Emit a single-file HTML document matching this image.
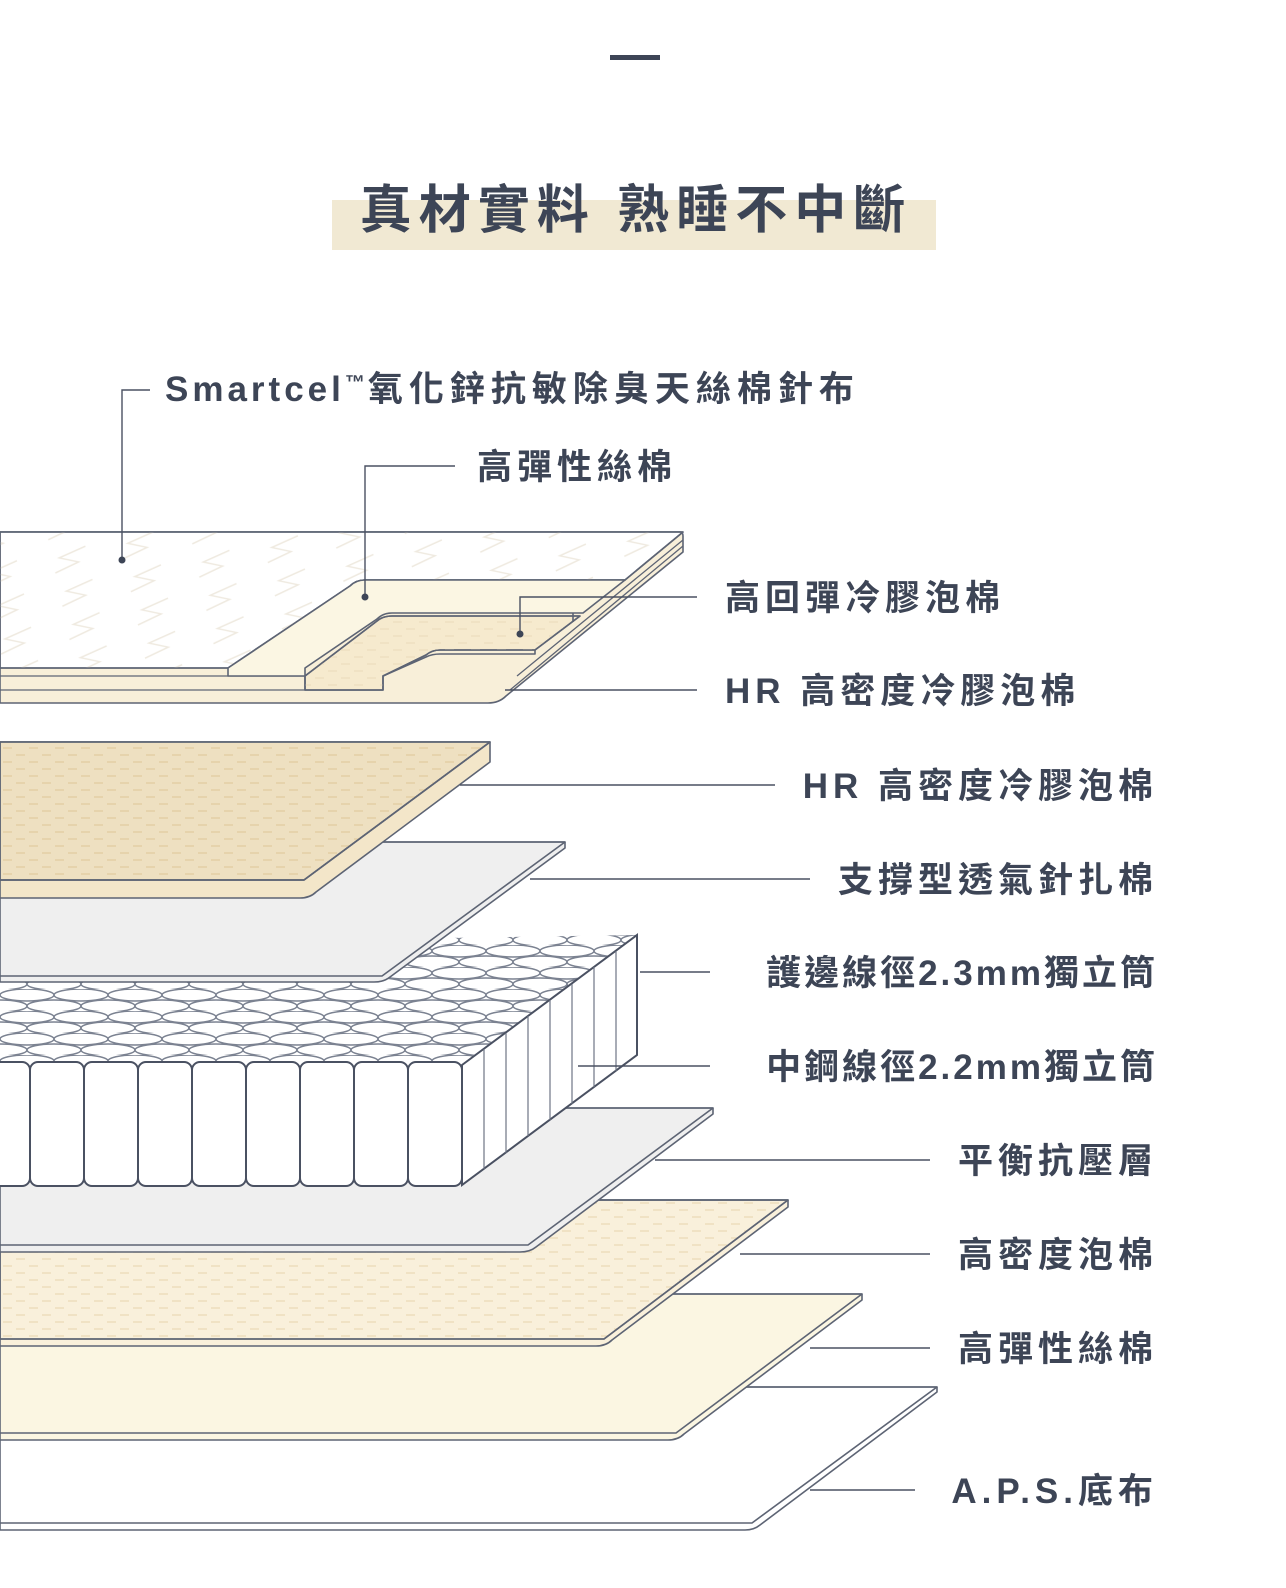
<!DOCTYPE html>
<html><head><meta charset="utf-8"><style>
html,body{margin:0;padding:0;background:#fff;overflow:hidden;width:1286px;height:1588px;}
svg{display:block;}
text{font-family:"Liberation Sans","Noto Sans CJK TC",sans-serif;font-weight:700;fill:#3d4556;}
</style></head><body>
<svg width="1286" height="1588" viewBox="0 0 1286 1588" xmlns="http://www.w3.org/2000/svg">
<defs>
<pattern id="zig" width="70" height="34" patternUnits="userSpaceOnUse" patternTransform="rotate(-12)">
<path d="M5,28 L30,22 L12,14 L40,8" fill="none" stroke="#efeae0" stroke-width="1.5"/>
</pattern>
<pattern id="dots" width="26" height="14" patternUnits="userSpaceOnUse">
<rect x="3" y="5" width="9" height="2" fill="#e6d3ac"/><rect x="16" y="12" width="9" height="2" fill="#e6d3ac"/>
</pattern>
<pattern id="dots2" width="26" height="14" patternUnits="userSpaceOnUse">
<rect x="3" y="5" width="9" height="2" fill="#f0e2c4"/><rect x="16" y="12" width="9" height="2" fill="#f0e2c4"/>
</pattern>
<pattern id="coil" width="54" height="22" patternUnits="userSpaceOnUse" patternTransform="translate(0,945)">
<ellipse cx="27" cy="6" rx="27" ry="6" fill="#fff" stroke="#7b8291" stroke-width="1.5"/>
<ellipse cx="0" cy="17" rx="27" ry="6" fill="#fff" stroke="#7b8291" stroke-width="1.5"/>
<ellipse cx="54" cy="17" rx="27" ry="6" fill="#fff" stroke="#7b8291" stroke-width="1.5"/>
</pattern>
</defs>

<rect x="610" y="55" width="50" height="5" fill="#3d4556"/>
<rect x="332" y="200" width="604" height="50" fill="#f1e9d3"/>
<text x="636" y="228" font-size="52" text-anchor="middle" letter-spacing="7">真材實料 熟睡不中斷</text>

<g stroke="#5d6474" stroke-width="1.6" stroke-linejoin="round">
<path d="M0,1387 L937,1387 L937,1392 L760,1525 Q754,1530 745,1530 L0,1530 Z" fill="#fff"/>
<path d="M0,1387 L937,1387 L752,1523 L0,1523" fill="none"/>
<path d="M0,1294 L862,1294 L862,1300 L684,1434 Q678,1440 668,1440 L0,1440 Z" fill="#fbf6e2"/>
<path d="M0,1294 L862,1294 L676,1433 L0,1433" fill="none"/>
<path d="M0,1200 L788,1200 L788,1207 L612,1340 Q606,1346 596,1346 L0,1346 Z" fill="#f9f0db"/>
<path d="M0,1200 L788,1200 L604,1339 L0,1339 Z" fill="url(#dots2)"/>
<path d="M0,1200 L788,1200 L604,1339 L0,1339" fill="none"/>
<path d="M0,1108 L713,1108 L713,1114 L536,1247 Q530,1252 520,1252 L0,1252 Z" fill="#efefef"/>
<path d="M0,1108 L713,1108 L528,1245 L0,1245" fill="none"/>
</g>

<g stroke="#4a5162" stroke-width="2">
<path d="M0,945 L637,935 L462,1065 L0,1065 Z" fill="#fff" stroke="none"/>
<path d="M0,945 L637,935 L462,1065 L0,1065 Z" fill="url(#coil)" stroke="none"/>
<path d="M462,1065 L637,935 L637,1055 L462,1185 Z" fill="#fff"/>
<g stroke-width="1.2" stroke="#6d7484">
<line x1="484" y1="1049" x2="484" y2="1169"/><line x1="506" y1="1033" x2="506" y2="1153"/>
<line x1="528" y1="1016" x2="528" y2="1136"/><line x1="550" y1="1000" x2="550" y2="1120"/>
<line x1="572" y1="984" x2="572" y2="1104"/><line x1="594" y1="967" x2="594" y2="1087"/>
<line x1="616" y1="951" x2="616" y2="1071"/>
</g>
<rect x="-24" y="1062" width="54" height="124" rx="8" fill="#fff"/>
<rect x="30" y="1062" width="54" height="124" rx="8" fill="#fff"/>
<rect x="84" y="1062" width="54" height="124" rx="8" fill="#fff"/>
<rect x="138" y="1062" width="54" height="124" rx="8" fill="#fff"/>
<rect x="192" y="1062" width="54" height="124" rx="8" fill="#fff"/>
<rect x="246" y="1062" width="54" height="124" rx="8" fill="#fff"/>
<rect x="300" y="1062" width="54" height="124" rx="8" fill="#fff"/>
<rect x="354" y="1062" width="54" height="124" rx="8" fill="#fff"/>
<rect x="408" y="1062" width="54" height="124" rx="8" fill="#fff"/>
</g>

<g stroke="#5d6474" stroke-width="1.6" stroke-linejoin="round">
<path d="M0,842 L565,842 L565,848 L390,977 Q384,982 374,982 L0,982 Z" fill="#efefef"/>
<path d="M0,842 L565,842 L382,976 L0,976" fill="none"/>
<path d="M0,742 L490,742 L490,762 L316,892 Q310,898 300,898 L0,898 Z" fill="#f3e6c9"/>
<path d="M0,742 L490,742 L304,880 L0,880 Z" fill="#eee0c1"/>
<path d="M0,742 L490,742 L304,880 L0,880 Z" fill="url(#dots)"/>
<path d="M0,880 L304,880 L490,742" fill="none"/>

<path d="M0,532 L680,532 Q683,532 683,536 L683,552 L506,696 Q499,703 488,703 L0,703 Z" fill="#f8efd9"/>
<path d="M0,690 L383,690 M0,676 L305,676 M683,540 L517,676 M683,546 L510,690" fill="none" stroke-width="1.3"/>
<path d="M0,532 L683,532 L625,580 L365,580 Q356,580 350,586 L228,668 L0,668 Z" fill="#fff"/>
<path d="M0,532 L683,532 L625,580 L365,580 Q356,580 350,586 L228,668 L0,668 Z" fill="url(#zig)"/>
<path d="M228,668 L350,586 Q356,580 365,580 L625,580 L583,613 L392,613 Q383,613 377,619 L305,668 L305,676 L228,676 Z" fill="#fbf6e3"/>
<path d="M305,676 L377,621 Q383,616 392,616 L580,616 L535,650 L440,650 Q432,650 426,655 L383,676 L383,690 L305,690 Z" fill="#f6eace"/>
<path d="M305,676 L377,621 Q383,616 392,616 L580,616 L535,650 L440,650 Q432,650 426,655 L383,676 L383,690 L305,690 Z" fill="url(#dots2)"/>
<path d="M383,676 L426,657 Q432,654 440,654 L535,654 L535,650" fill="none"/>
<path d="M573,613 L573,622" fill="none"/>
</g>

<g stroke="#4a5162" stroke-width="1.4" fill="none">
<path d="M150,390 L122,390 L122,560"/>
<path d="M455,466 L365,466 L365,597"/>
<path d="M697,597 L520,597 L520,634"/>
<path d="M697,690 L505,690"/>
<path d="M775,785 L460,785"/>
<path d="M810,879 L530,879"/>
<path d="M710,972 L640,972"/>
<path d="M710,1066 L578,1066"/>
<path d="M930,1160 L655,1160"/>
<path d="M930,1254 L740,1254"/>
<path d="M930,1348 L810,1348"/>
<path d="M915,1490 L810,1490"/>
</g>
<g fill="#3d4556"><circle cx="122" cy="560" r="3.5"/><circle cx="365" cy="597" r="3.5"/><circle cx="520" cy="634" r="3.5"/></g>

<g font-size="35" letter-spacing="5">
<text x="165" y="401" letter-spacing="4">Smartcel<tspan font-size="20" dy="-12" letter-spacing="3">™</tspan><tspan dy="12" letter-spacing="6">氧化鋅抗敏除臭天絲棉針布</tspan></text>
<text x="477" y="479">高彈性絲棉</text>
<text x="725" y="610">高回彈冷膠泡棉</text>
<text x="725" y="703">HR 高密度冷膠泡棉</text>
<text x="1158" y="798" text-anchor="end">HR 高密度冷膠泡棉</text>
<text x="1158" y="892" text-anchor="end">支撐型透氣針扎棉</text>
<text x="1158" y="985" text-anchor="end" letter-spacing="3">護邊線徑2.3mm獨立筒</text>
<text x="1158" y="1079" text-anchor="end" letter-spacing="3">中鋼線徑2.2mm獨立筒</text>
<text x="1158" y="1173" text-anchor="end">平衡抗壓層</text>
<text x="1158" y="1267" text-anchor="end">高密度泡棉</text>
<text x="1158" y="1361" text-anchor="end">高彈性絲棉</text>
<text x="1158" y="1503" text-anchor="end">A.P.S.底布</text>
</g>
</svg>
</body></html>
